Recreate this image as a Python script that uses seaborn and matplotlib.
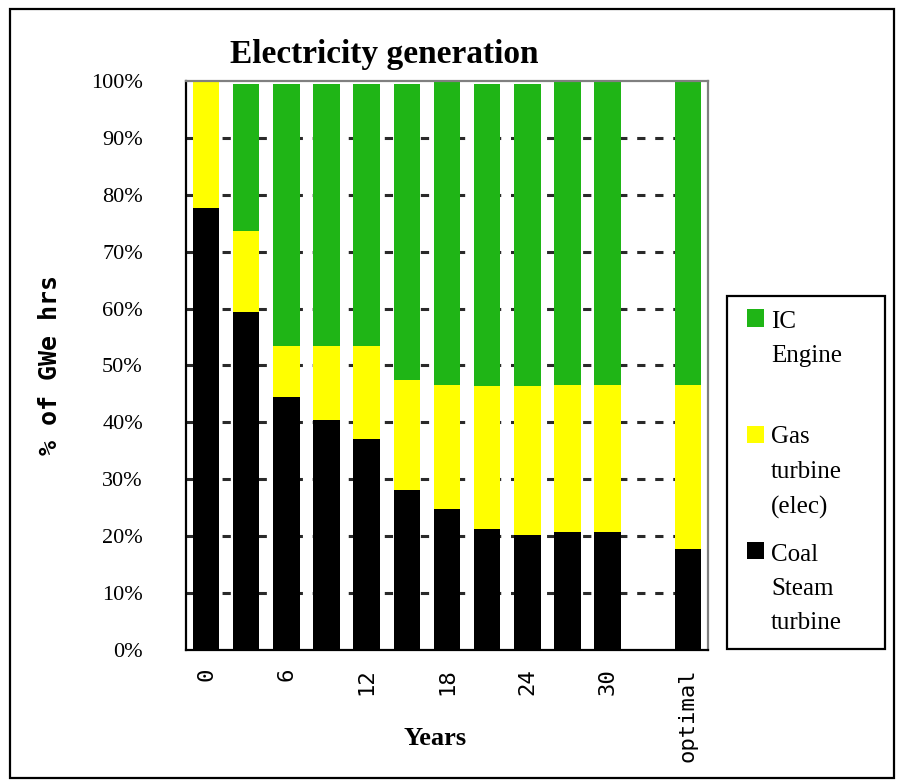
import matplotlib
matplotlib.use("Agg")
import numpy as np
import pandas as pd
import matplotlib.pyplot as plt
from matplotlib.patches import Patch, Rectangle
from matplotlib.legend_handler import HandlerPatch
import seaborn as sns

# share of GWe hrs per technology (%)
years = ["0", "3", "6", "9", "12", "15", "18", "21", "24", "27", "30", "optimal"]
slots = ["0", "3", "6", "9", "12", "15", "18", "21", "24", "27", "30", "33", "optimal"]
tick_labels = ["0", "", "6", "", "12", "", "18", "", "24", "", "30", "", "optimal"]
coal = [77.7, 59.4, 44.5, 40.4, 37.1, 28.1, 24.8, 21.3, 20.2, 20.7, 20.7, 17.8]
gas = [22.3, 14.2, 9.0, 13.1, 16.4, 19.4, 21.8, 25.1, 26.2, 25.9, 25.9, 28.8]
ic = [0.0, 25.9, 46.0, 46.0, 46.0, 52.0, 53.4, 53.1, 53.1, 53.4, 53.4, 53.4]
pct_ticks = list(range(0, 101, 10))
pct_labels = [f"{v}%" for v in pct_ticks]

GREEN = "#1fb516"
YELLOW = "#ffff00"
COAL = "#000000"

sns.set_style("white")
plt.rcParams["font.family"] = ["Liberation Serif", "DejaVu Sans"]
plt.rcParams.update({"text.color": "black", "axes.labelcolor": "black",
                     "xtick.color": "black", "ytick.color": "black"})

df = pd.DataFrame({"year": years, "coal": coal, "gas": gas, "ic": ic})
df["gas_top"] = df["coal"] + df["gas"]
df["ic_top"] = df["gas_top"] + df["ic"]

fig = plt.figure(figsize=(8.98, 7.81), dpi=100)
ax = fig.add_axes([0.2071, 0.1678, 0.5813, 0.7286])

# stacked bars: draw cumulative tops, back to front
for col, colour in [("ic_top", GREEN), ("gas_top", YELLOW), ("coal", COAL)]:
    sns.barplot(data=df, x="year", y=col, order=slots, color=colour,
                saturation=1, width=0.66, errorbar=None, linewidth=0, ax=ax)

ax.hlines(pct_ticks[1:-1], -0.5, len(slots) - 0.5, colors="#2a2a2a",
          linestyles=(0, (2.7, 3.2)), linewidth=2.2, zorder=0.5)

ax.set_xlim(-0.5, len(slots) - 0.5)
ax.set_ylim(0, 100)

for side in ["left", "bottom"]:
    ax.spines[side].set_color("black")
    ax.spines[side].set_linewidth(1.6)
for side in ["top", "right"]:
    ax.spines[side].set_visible(True)
    ax.spines[side].set_color("#808080")
    ax.spines[side].set_linewidth(1.6)

ax.set_xticks(range(len(slots)))
ax.set_xticklabels(tick_labels, rotation=90, fontfamily="DejaVu Sans Mono", fontsize=16)
ax.set_xticks(np.arange(-0.5, len(slots)), minor=True)
ax.tick_params(axis="x", which="major", length=0, pad=13)
ax.tick_params(axis="x", which="minor", length=6, width=1.5, direction="out", color="black")

ax.set_yticks(pct_ticks)
ax.set_yticklabels(pct_labels, fontsize=16)
ax.tick_params(axis="y", direction="inout", length=11, width=1.5, pad=25.5, color="black")

ax.set_ylabel("% of GWe hrs", fontfamily="DejaVu Sans Mono", fontweight="bold", fontsize=18)
ax.yaxis.set_label_coords(-0.237, 0.5)
ax.set_xlabel("Years", fontweight="bold", fontsize=19)
ax.xaxis.set_label_coords(0.477, -0.136)
ax.set_title("Electricity generation", fontweight="bold", fontsize=24, x=0.379, pad=13)


def top_square(legend, orig_handle, xdescent, ydescent, width, height, fontsize):
    # put the square beside the first line of a multi-line label
    return Rectangle((-xdescent + 3.6, -ydescent + 27.4), width, height)


handles = [Patch(facecolor=GREEN, edgecolor="none", label="IC\nEngine\n "),
           Patch(facecolor=YELLOW, edgecolor="none", label="Gas\nturbine\n(elec)"),
           Patch(facecolor=COAL, edgecolor="none", label="Coal\nSteam\nturbine")]
leg = ax.legend(handles=handles, loc="upper left", bbox_to_anchor=(1.0364, 0.0088, 0.3027, 0.6132),
                mode="expand", borderaxespad=0, prop={"family": "Liberation Serif", "size": 18},
                frameon=True, fancybox=False, edgecolor="black", framealpha=1,
                handlelength=0.68, handleheight=0.68, handletextpad=0.48,
                borderpad=0.6, labelspacing=1.0,
                handler_map={Patch: HandlerPatch(patch_func=top_square)})
leg.get_frame().set_linewidth(1.6)
for t in leg.get_texts():
    t.set_linespacing(1.72)

fig.patches.append(Rectangle((10 / 898, 3 / 781), 884 / 898, 769 / 781, transform=fig.transFigure,
                             fill=False, edgecolor="black", linewidth=1.6))

fig.savefig("out.png", dpi=100)
